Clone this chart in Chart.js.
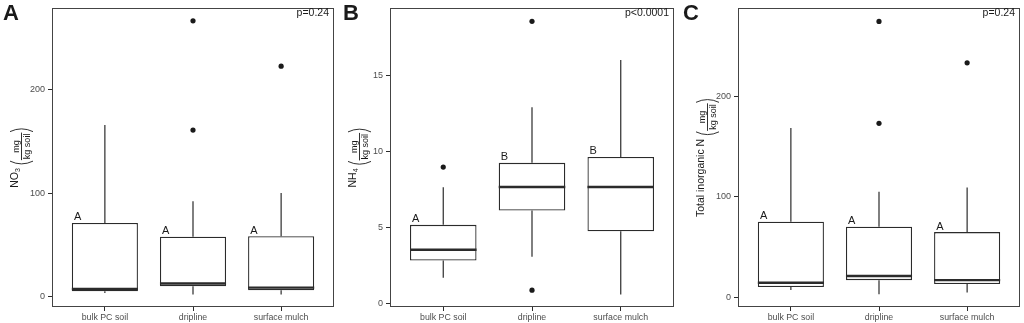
<!DOCTYPE html>
<html>
<head>
<meta charset="utf-8">
<script src="https://cdn.jsdelivr.net/npm/chart.js@4.4.1/dist/chart.umd.min.js"></script>
<style>
  html, body { margin: 0; padding: 0; background: #fff; }
  #wrap { position: relative; width: 1024px; height: 323px; }
  canvas { position: absolute; top: 0; }
</style>
</head>
<body>
<div id="wrap">
  <canvas id="panelA" width="340" height="323" style="left:0"></canvas>
  <canvas id="panelB" width="340" height="323" style="left:340px"></canvas>
  <canvas id="panelC" width="344" height="323" style="left:680px"></canvas>
</div>
<script>
const categories = ['bulk PC soil', 'dripline', 'surface mulch'];

// A: nitrate (mg/kg soil)
const no3Low      = [3, 1.6, 1.6];
const no3Q1       = [4.7, 9.5, 5.7];
const no3Median   = [7, 12.3, 8.3];
const no3Q3       = [71, 57.6, 58.2];
const no3High     = [166, 92, 100];
const no3Outliers = [[2, 267], [2, 161], [3, 223]];   // [category number, value]
const no3Letters  = ['A', 'A', 'A'];
const no3Ticks    = [0, 100, 200];

// B: ammonium
const nh4Low      = [1.68, 3.06, 0.58];
const nh4Q1       = [2.82, 6.12, 4.74];
const nh4Median   = [3.53, 7.67, 7.67];
const nh4Q3       = [5.17, 9.26, 9.65];
const nh4High     = [7.65, 12.93, 16.05];
const nh4Outliers = [[1, 8.98], [2, 18.6], [2, 0.86]];
const nh4Letters  = ['A', 'B', 'B'];
const nh4Ticks    = [0, 5, 10, 15];

// C: total inorganic N
const totLow      = [7.5, 3.3, 4.9];
const totQ1       = [10.4, 17.2, 13.3];
const totMedian   = [14.6, 21.4, 17.2];
const totQ3       = [75.4, 70.3, 65];
const totHigh     = [168.6, 105.2, 109.4];
const totOutliers = [[2, 274.5], [2, 173.2], [3, 233.4]];
const totLetters  = ['A', 'A', 'A'];
const totTicks    = [0, 100, 200];

const FONT = '"Liberation Sans", Arial, sans-serif';
const INK = '#1a1a1a';
const LINE = '#2b2b2b';

function drawYTitle(ctx, cx, cy, main, sub) {
    ctx.save();
    ctx.translate(cx, cy);
    ctx.rotate(-Math.PI / 2);
    ctx.fillStyle = INK;
    ctx.strokeStyle = INK;
    ctx.lineWidth = 0.9;
    const mainFont = '10.5px ' + FONT;
    const subFont  = '7px ' + FONT;
    const fracFont = '9px ' + FONT;
    ctx.font = mainFont; const mw = ctx.measureText(main).width;
    ctx.font = subFont;  const sw = sub ? ctx.measureText(sub).width : 0;
    ctx.font = fracFont;
    const fw = Math.max(ctx.measureText('mg').width, ctx.measureText('kg soil').width) + 2;
    const pw = 5, gap = 3;
    const total = mw + sw + gap + pw + fw + pw;
    let u = -total / 2;
    ctx.textAlign = 'left';
    ctx.textBaseline = 'alphabetic';
    ctx.font = mainFont; ctx.fillText(main, u, -4); u += mw;
    if (sub) { ctx.font = subFont; ctx.fillText(sub, u, -1.5); u += sw; }
    u += gap;
    // left paren
    ctx.beginPath(); ctx.moveTo(u + 4, -11.5); ctx.quadraticCurveTo(u - 1.5, 0, u + 4, 11.5); ctx.stroke();
    u += pw;
    // fraction
    ctx.font = fracFont; ctx.textAlign = 'center';
    const fc = u + fw / 2;
    ctx.fillText('mg', fc, -3);
    ctx.fillText('kg soil', fc, 8.8);
    ctx.beginPath(); ctx.moveTo(u, 0); ctx.lineTo(u + fw, 0); ctx.stroke();
    u += fw;
    // right paren
    ctx.beginPath(); ctx.moveTo(u + 1, -11.5); ctx.quadraticCurveTo(u + 6.5, 0, u + 1, 11.5); ctx.stroke();
    ctx.restore();
}

const decor = {
    id: 'decor',
    afterDraw(chart, args, o) {
        const ctx = chart.ctx, a = chart.chartArea;
        const xs = chart.scales.x, ys = chart.scales.y;
        ctx.save();
        // panel border
        ctx.strokeStyle = '#444';
        ctx.lineWidth = 1;
        ctx.strokeRect(Math.round(a.left) + 0.5, Math.round(a.top) + 0.5,
                       Math.round(a.right - a.left) - 1, Math.round(a.bottom - a.top) - 1);
        // group letters over boxes
        ctx.fillStyle = INK;
        ctx.font = '11px ' + FONT;
        ctx.textAlign = 'center';
        ctx.textBaseline = 'alphabetic';
        o.letters.forEach((t, i) => {
            ctx.fillText(t, xs.getPixelForValue(i + 1 - 0.31), ys.getPixelForValue(o.q3[i]) - 2.5);
        });
        // p value
        ctx.font = '10.5px ' + FONT;
        ctx.textAlign = 'right';
        ctx.fillText(o.pval, a.right - 5, 16.3);
        // panel letter
        ctx.font = 'bold 22px ' + FONT;
        ctx.textAlign = 'left';
        ctx.fillText(o.tag, 3, 20);
        ctx.restore();
        drawYTitle(ctx, a.left - 30.5, (a.top + a.bottom) / 2, o.title, o.sub);
    }
};

function buildPanel(id, p) {
    const canvas = document.getElementById(id);
    const W = canvas.width;
    const whiskers = [], medians = [], boxes = [];
    categories.forEach((c, i) => {
        const x = i + 1;
        whiskers.push({x: x, y: p.q3[i]}, {x: x, y: p.high[i]}, {x: x, y: null},
                      {x: x, y: p.q1[i]}, {x: x, y: p.low[i]}, {x: x, y: null});
        medians.push({x: x - 0.375, y: p.median[i]}, {x: x + 0.375, y: p.median[i]}, {x: x, y: null});
        boxes.push({x: x, y: [p.q1[i], p.q3[i]]});
    });
    const outliers = p.outliers.map(d => ({x: d[0], y: d[1]}));

    return new Chart(canvas, {
        type: 'bar',
        data: {
            datasets: [
                { type: 'scatter', data: outliers, pointRadius: 2.6, pointBackgroundColor: INK,
                  pointBorderWidth: 0, showLine: false },
                { type: 'line', data: medians, borderColor: LINE, borderWidth: 2.4,
                  pointRadius: 0, spanGaps: false, fill: false },
                { type: 'bar', data: boxes, backgroundColor: '#ffffff', borderColor: LINE,
                  borderWidth: 1.3, borderSkipped: false, categoryPercentage: 1, barPercentage: 0.75 },
                { type: 'line', data: whiskers, borderColor: LINE, borderWidth: 1.2,
                  pointRadius: 0, spanGaps: false, fill: false }
            ]
        },
        options: {
            responsive: false,
            animation: false,
            events: [],
            layout: { padding: { left: 0, right: W - p.right, top: 2, bottom: 0 } },
            plugins: {
                legend: { display: false },
                tooltip: { enabled: false },
                decor: { letters: p.letters, q3: p.q3, pval: p.pval, tag: p.tag, title: p.title, sub: p.sub }
            },
            scales: {
                x: {
                    type: 'linear',
                    min: 0.4,
                    max: 3.6,
                    offset: false,
                    afterBuildTicks: s => { s.ticks = categories.map((c, i) => ({ value: i + 1 })); },
                    afterFit: s => { s.height = 16; },
                    ticks: {
                        callback: v => categories[v - 1],
                        color: '#4d4d4d',
                        font: { family: FONT, size: 8.8 },
                        padding: 1,
                        maxRotation: 0,
                        autoSkip: false
                    },
                    grid: { drawOnChartArea: false, drawTicks: true, tickLength: 4, color: LINE, offset: false },
                    border: { display: false }
                },
                y: {
                    min: p.min,
                    max: p.max,
                    afterBuildTicks: s => { s.ticks = p.ticks.map(v => ({ value: v })); },
                    afterFit: s => { s.width = p.left; },
                    ticks: {
                        color: '#4d4d4d',
                        font: { family: FONT, size: 9 },
                        padding: 3
                    },
                    grid: { drawOnChartArea: false, drawTicks: true, tickLength: 4, color: LINE },
                    border: { display: false }
                }
            }
        },
        plugins: [decor]
    });
}

buildPanel('panelA', {
    low: no3Low, q1: no3Q1, median: no3Median, q3: no3Q3, high: no3High,
    outliers: no3Outliers, letters: no3Letters, ticks: no3Ticks,
    min: -10.5, max: 279, left: 52, right: 334,
    tag: 'A', pval: 'p=0.24', title: 'NO', sub: '3'
});
buildPanel('panelB', {
    low: nh4Low, q1: nh4Q1, median: nh4Median, q3: nh4Q3, high: nh4High,
    outliers: nh4Outliers, letters: nh4Letters, ticks: nh4Ticks,
    min: -0.25, max: 19.45, left: 50, right: 334,
    tag: 'B', pval: 'p<0.0001', title: 'NH', sub: '4'
});
buildPanel('panelC', {
    low: totLow, q1: totQ1, median: totMedian, q3: totQ3, high: totHigh,
    outliers: totOutliers, letters: totLetters, ticks: totTicks,
    min: -9.5, max: 287.5, left: 58, right: 340,
    tag: 'C', pval: 'p=0.24', title: 'Total inorganic N', sub: ''
});
</script>
</body>
</html>
